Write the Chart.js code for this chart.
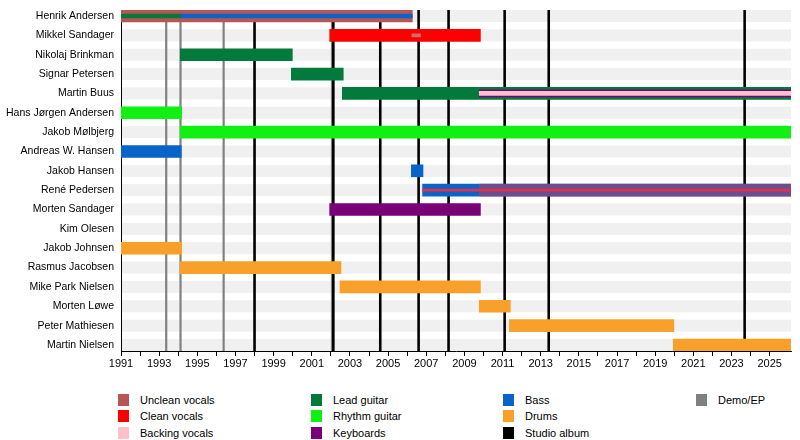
<!DOCTYPE html>
<html>
<head>
<meta charset="utf-8">
<script src="https://cdn.jsdelivr.net/npm/chart.js@4.4.0/dist/chart.umd.min.js"></script>
<style>
  body { margin: 0; background: #fff; font-family: "Liberation Sans", Arial, sans-serif; }
  #wrap { position: relative; width: 800px; height: 440px; }
  #c { position: absolute; left: 0; top: 0; }
  .sw { position: absolute; width: 11px; height: 12px; }
  .lab { position: absolute; font-size: 11px; color: #000; white-space: nowrap; line-height: 12px; }
</style>
</head>
<body>
<div id="wrap">
  <canvas id="c" width="800" height="380" style="width:800px;height:380px"></canvas>
  <div id="legend"></div>
</div>
<script>
const members = [
  'Henrik Andersen', 'Mikkel Sandager', 'Nikolaj Brinkman', 'Signar Petersen',
  'Martin Buus', 'Hans Jørgen Andersen', 'Jakob Mølbjerg', 'Andreas W. Hansen',
  'Jakob Hansen', 'René Pedersen', 'Morten Sandager', 'Kim Olesen',
  'Jakob Johnsen', 'Rasmus Jacobsen', 'Mike Park Nielsen', 'Morten Løwe',
  'Peter Mathiesen', 'Martin Nielsen'
];
const startYear = 1991;
const endYear = 2026.12;
const tickYears = [1991, 1992, 1993, 1994, 1995, 1996, 1997, 1998, 1999, 2000, 2001, 2002,
  2003, 2004, 2005, 2006, 2007, 2008, 2009, 2010, 2011, 2012, 2013, 2014, 2015, 2016,
  2017, 2018, 2019, 2020, 2021, 2022, 2023, 2024, 2025];

const albumYears = [1998.0, 2002.13, 2004.59, 2006.6, 2008.17, 2011.11, 2013.42, 2023.69];
const demoYears = [1993.37, 1994.12, 1996.38, 2002.06];

// main roles: [member, from, to]
const uncleanVocals = [['Henrik Andersen', 1991, 2006.27]];
const cleanVocals = [['Mikkel Sandager', 2001.94, 2009.84]];
const leadGuitar = [
  ['Nikolaj Brinkman', 1994.11, 1999.98],
  ['Signar Petersen', 1999.93, 2002.65],
  ['Martin Buus', 2002.6, endYear]
];
const rhythmGuitar = [
  ['Hans Jørgen Andersen', 1991, 1994.18],
  ['Jakob Mølbjerg', 1994.11, endYear]
];
const bass = [
  ['Andreas W. Hansen', 1991, 1994.16],
  ['Jakob Hansen', 2006.22, 2006.83],
  ['René Pedersen', 2006.81, endYear]
];
const keyboards = [['Morten Sandager', 2001.94, 2009.84]];
const drums = [
  ['Jakob Johnsen', 1991, 1994.18],
  ['Rasmus Jacobsen', 1994.11, 2002.53],
  ['Mike Park Nielsen', 2002.48, 2009.84],
  ['Morten Løwe', 2009.78, 2011.41],
  ['Peter Mathiesen', 2011.36, 2019.98],
  ['Martin Nielsen', 2019.95, endYear]
];

// secondary roles drawn as inner strips
const leadGuitar2 = [['Henrik Andersen', 1991, 1994.11]];
const bass2 = [['Henrik Andersen', 1994.11, 2006.27]];
const keyboards2 = [['Martin Buus', 2009.78, endYear]];
const backingVocals2 = [['Martin Buus', 2009.78, endYear]];
const uncleanVocals2 = [['René Pedersen', 2009.78, endYear]];
const uncleanVocals3 = [['Mikkel Sandager', 2006.25, 2006.7]];
const cleanVocals2 = [['René Pedersen', 2006.81, endYear]];

const colors = {
  unclean: '#b85656', clean: '#ff0000', backing: '#ffc0cb',
  lead: '#027a3c', rhythm: '#12ef12', keys: '#7a0078',
  bass: '#0864c8', drums: '#f9a02b', album: '#000000', demo: '#808080'
};

const legendLabels = ['Unclean vocals', 'Clean vocals', 'Backing vocals', 'Lead guitar',
  'Rhythm guitar', 'Keyboards', 'Bass', 'Drums', 'Studio album', 'Demo/EP'];
const legendColors = [colors.unclean, colors.clean, colors.backing, colors.lead,
  colors.rhythm, colors.keys, colors.bass, colors.drums, colors.album, colors.demo];

function layer(label, stints, color, thickness, order) {
  return {
    label: label,
    data: stints.map(s => ({ x: [s[1], s[2]], y: members.indexOf(s[0]) })),
    backgroundColor: color,
    barThickness: thickness,
    order: order,
    borderWidth: 0
  };
}

const datasets = [
  layer('Unclean vocals', uncleanVocals, colors.unclean, 12, 5),
  layer('Clean vocals', cleanVocals, colors.clean, 12, 5),
  layer('Lead guitar', leadGuitar, colors.lead, 12, 5),
  layer('Rhythm guitar', rhythmGuitar, colors.rhythm, 12, 5),
  layer('Bass', bass, colors.bass, 12, 5),
  layer('Keyboards', keyboards, colors.keys, 12, 5),
  layer('Drums', drums, colors.drums, 12, 5),
  layer('Unclean vocals 2', uncleanVocals2, 'rgba(190,60,90,0.55)', 12, 4),
  layer('Keyboards 2', keyboards2, colors.keys, 7, 3),
  layer('Lead guitar 2', leadGuitar2, colors.lead, 4, 2),
  layer('Bass 2', bass2, colors.bass, 4, 2),
  layer('Backing vocals 2', backingVocals2, colors.backing, 4, 2),
  layer('Clean vocals 2', cleanVocals2, '#e0304a', 2, 1),
  layer('Unclean vocals 3', uncleanVocals3, '#c87070', 3, 1)
];

// light row bands and the release lines, behind the bars
const backdrop = {
  id: 'backdrop',
  beforeDatasetsDraw(chart) {
    const { ctx, chartArea: a, scales: { x, y } } = chart;
    ctx.save();
    ctx.fillStyle = '#f0f0f0';
    members.forEach((m, i) => {
      const py = y.getPixelForValue(i);
      ctx.fillRect(a.left + 1, py - 6, a.right - a.left - 1, 12);
    });
    const vline = (yr, color, w) => {
      const px = x.getPixelForValue(yr);
      ctx.strokeStyle = color;
      ctx.lineWidth = w;
      ctx.beginPath();
      ctx.moveTo(px, a.top);
      ctx.lineTo(px, a.bottom);
      ctx.stroke();
    };
    demoYears.forEach(yr => vline(yr, colors.demo, 2.2));
    albumYears.forEach(yr => vline(yr, colors.album, 2.6));
    ctx.restore();
  }
};

new Chart(document.getElementById('c'), {
  type: 'bar',
  data: { datasets: datasets },
  plugins: [backdrop],
  options: {
    indexAxis: 'y',
    responsive: false,
    animation: false,
    datasets: { bar: { grouped: false } },
    layout: { padding: { top: 10, right: 9, left: 0, bottom: 0 } },
    plugins: { legend: { display: false }, tooltip: { enabled: false } },
    scales: {
      x: {
        type: 'linear',
        min: startYear,
        max: endYear,
        afterBuildTicks: s => { s.ticks = tickYears.map(v => ({ value: v })); },
        afterFit: s => { s.height = 29; s.paddingLeft = 0; s.paddingRight = 0; },
        ticks: {
          autoSkip: false,
          maxRotation: 0,
          padding: 1,
          color: '#000',
          font: { family: 'Liberation Sans', size: 11 },
          callback: v => (v % 2 ? String(v) : '')
        },
        grid: { drawOnChartArea: false, tickLength: 5, color: '#000' },
        border: { color: '#000', width: 1 }
      },
      y: {
        type: 'linear',
        reverse: true,
        offset: false,
        min: -0.31,
        max: 17.31,
        afterBuildTicks: s => { s.ticks = members.map((m, i) => ({ value: i })); },
        afterFit: s => { s.width = 121; s.paddingTop = 0; s.paddingBottom = 0; },
        ticks: {
          autoSkip: false,
          padding: 7,
          color: '#000',
          font: { family: 'Liberation Sans', size: 10.5 },
          callback: v => members[v]
        },
        grid: { display: false, drawTicks: false, offset: false },
        border: { display: true, color: '#000', width: 1 }
      }
    }
  }
});

// legend, three entries per column
const legend = document.getElementById('legend');
const colX = [118, 311, 503, 696];
const rowY = [394, 410, 427];
legendLabels.forEach((name, i) => {
  const cx = colX[Math.floor(i / 3)];
  const cy = rowY[i % 3];
  const sw = document.createElement('div');
  sw.className = 'sw';
  sw.style.left = cx + 'px';
  sw.style.top = cy + 'px';
  sw.style.background = legendColors[i];
  legend.appendChild(sw);
  const lab = document.createElement('div');
  lab.className = 'lab';
  lab.style.left = (cx + 22) + 'px';
  lab.style.top = cy + 'px';
  lab.textContent = name;
  legend.appendChild(lab);
});
</script>
</body>
</html>
